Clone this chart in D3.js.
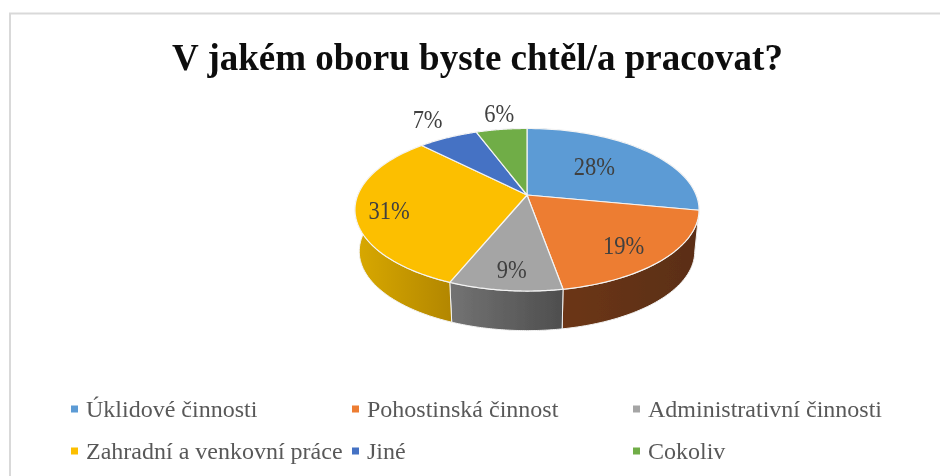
<!DOCTYPE html>
<html><head><meta charset="utf-8">
<script src="https://cdn.jsdelivr.net/npm/d3@7/dist/d3.min.js"></script>
<style>html,body{margin:0;padding:0;background:#fff}svg{display:block}</style>
</head><body><svg id="c" width="940" height="476"></svg>
<script>
const titleText = "V jakém oboru byste chtěl/a pracovat?";
const categories = ["Úklidové činnosti","Pohostinská činnost","Administrativní činnosti","Zahradní a venkovní práce","Jiné","Cokoliv"];
const values = [28,19.2,9,31.4,6.7,5.7];
const colors = ["#5B9BD5","#ED7D31","#A5A5A5","#FCBF00","#4472C4","#70AD47"];
const sideFrom = ["#3a6a96","#6c3613","#737373","#d9a900","#2f5088","#4d7a30"];
const sideTo = ["#2f5578","#5a2e13","#4e4e4e","#b38700","#263f6c","#3e6227"];

const W = 940, H = 476;
const svg = d3.select("#c");
const cx = 527, cy = 195, a = 169.2, b = 78.6, k = 0.1815, depth = 42, baseScale = 0.975;

// perspective projection of the pie disc
const project = (ang, r, dy, s) => {
  const u = r*Math.sin(ang), v = -r*Math.cos(ang), w = 1 - k*v;
  return [cx + s*a*u/w, cy + dy + s*b*v/w];
};
const pie = d3.pie().sort(null).value(d => d);
const arcs = pie(values);
const samples = (s,e) => d3.range(0, 61).map(i => s + (e-s)*i/60);
const line = d3.line();
const pct = d3.format(".0f");

const defs = svg.append("defs");
defs.append("filter").attr("id","soft").attr("x","-5%").attr("y","-5%").attr("width","110%").attr("height","110%")
  .append("feGaussianBlur").attr("stdDeviation",0.35);
const root = svg.append("g").attr("filter","url(#soft)");

// frame
root.append("rect").attr("x",10).attr("y",13.5).attr("width",W+20).attr("height",H).attr("fill","none").attr("stroke","#d9d9d9").attr("stroke-width",2);

root.append("text").attr("x",477.5).attr("y",70).attr("text-anchor","middle")
  .attr("font-family","'Liberation Serif'").attr("font-weight","bold").attr("font-size",37).attr("fill","#0a0a0a").text(titleText);

// side walls
arcs.forEach((d,i) => {
  const pts = samples(d.startAngle,d.endAngle);
  const top = pts.map(t => project(t,1,0,1));
  const bot = pts.map(t => project(t,1,depth,baseScale)).reverse();
  const xs = top.map(p=>p[0]);
  const g = defs.append("linearGradient").attr("id","side"+i).attr("gradientUnits","userSpaceOnUse")
    .attr("x1",d3.min(xs)).attr("x2",d3.max(xs)).attr("y1",0).attr("y2",0);
  g.append("stop").attr("offset",0).attr("stop-color",sideFrom[i]);
  g.append("stop").attr("offset",1).attr("stop-color",sideTo[i]);
  root.append("path").attr("d",line(top.concat(bot))+"Z").attr("fill",`url(#side${i})`)
    .attr("stroke","#f2f2f2").attr("stroke-width",1);
});
// top faces
arcs.forEach((d,i) => {
  const top = samples(d.startAngle,d.endAngle).map(t => project(t,1,0,1));
  root.append("path").attr("d",line([[cx,cy]].concat(top))+"Z").attr("fill",colors[i])
    .attr("stroke","#f4f4f4").attr("stroke-width",1.2).attr("stroke-linejoin","round");
});

// data labels: radial position along each slice's mid-angle, plus a nudge
const labelR = [0.62,0.68,0.82,0.87,1.2,1.2];
const labelDx = [-8,8,2,11,-7,2];
const labelDy = [0,9,-1,2,-9,-5];
arcs.forEach((d,i) => {
  const mid = (d.startAngle+d.endAngle)/2;
  const p = project(mid,labelR[i],0,1);
  root.append("text").attr("transform",`translate(${p[0]+labelDx[i]},${p[1]+labelDy[i]}) scale(0.9,1)`).attr("dy","0.35em").attr("text-anchor","middle")
    .attr("font-family","'Liberation Serif'").attr("font-size",25).attr("fill","#404040").text(pct(d.value)+"%");
});

// legend
const colX = d3.scaleOrdinal().domain([0,1,2]).range([71,352,633]);
const rowY = d3.scaleOrdinal().domain([0,1]).range([409,451]);
categories.forEach((c,i) => {
  const col = i%3, row = Math.floor(i/3);
  root.append("rect").attr("x",colX(col)).attr("y",rowY(row)-3.5).attr("width",7).attr("height",7).attr("fill",colors[i]);
  root.append("text").attr("x",colX(col)+15).attr("y",rowY(row)+7.5).attr("font-family","'Liberation Serif'")
    .attr("font-size",24).attr("fill","#595959").text(c);
});
</script></body></html>
